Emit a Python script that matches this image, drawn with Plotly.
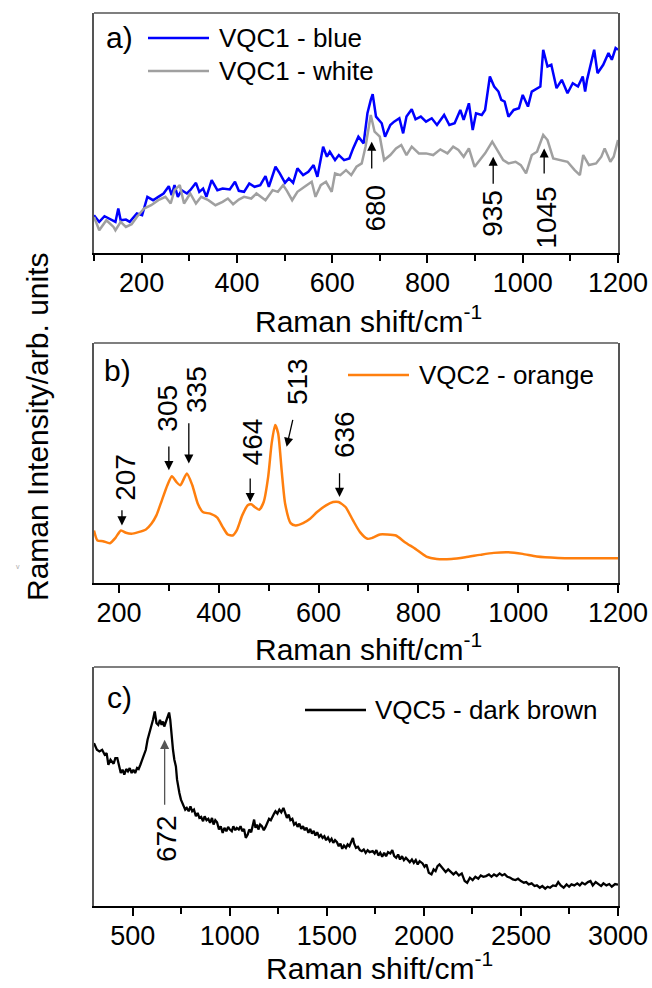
import plotly.graph_objects as go

# ---------------- data (arbitrary intensity units) ----------------
a_x_blue = [100,111,122,137,145,151,156,167,175,190,201,212,224,235,246,257,263,269,276,284,295,302,314,321,329,336,347,359,370,385,396,404,415,426,437,449,460,467,481,490,501,509,518,527,539,550,561,569,581,589,595,606,614,625,636,644,655,666,674,681,685,692,704,711,722,730,741,749,756,767,775,786,797,809,820,835,846,857,869,876,887,895,902,914,921,931,940,949,955,962,970,981,992,1000,1011,1019,1030,1037,1043,1052,1060,1071,1082,1094,1105,1116,1126,1131,1135,1150,1157,1169,1180,1187,1195,1200]
a_y_blue = [113,93,110,98,93,133,98,100,93,118,113,168,158,168,178,200,173,203,168,188,178,188,210,183,193,168,218,188,193,190,213,186,183,208,198,203,230,198,258,238,210,223,210,253,233,243,263,228,318,288,303,278,293,278,283,313,348,328,418,458,475,408,388,348,383,393,403,358,408,430,400,408,393,403,383,413,383,388,428,398,448,368,418,413,428,528,498,483,458,453,408,428,433,473,438,483,493,498,608,558,563,493,518,478,508,498,528,483,518,608,538,563,598,578,613,608]

a_x_white = [100,111,126,141,145,156,167,179,190,205,220,235,250,261,269,280,289,302,314,325,340,355,370,381,392,404,415,430,441,452,460,475,486,497,505,516,527,542,557,565,576,587,599,606,617,629,640,651,662,670,681,689,700,709,722,734,745,756,767,782,797,812,827,842,854,865,876,887,899,910,921,936,947,959,970,985,996,1007,1019,1030,1043,1052,1064,1079,1094,1109,1120,1127,1139,1154,1165,1172,1184,1191,1200]
a_y_white = [108,68,98,78,68,93,78,86,108,133,143,158,168,148,188,203,148,178,148,168,158,143,153,163,146,160,168,163,178,166,158,188,183,203,186,158,183,198,213,168,203,213,183,238,233,248,233,258,268,318,413,363,348,278,293,313,323,293,318,298,298,293,310,298,318,308,288,313,258,278,298,333,308,278,268,273,263,238,293,303,353,338,283,278,273,248,233,293,263,268,288,313,273,288,338]

b_x = [150,157,168,182,193,204,214,225,239,254,265,275,286,297,306,315,323,336,347,358,368,383,397,408,418,428,436,447,458,465,472,481,490,499,506,513,519,526,533,544,554,569,583,597,615,629,640,654,669,683,698,708,723,737,755,773,794,816,837,866,894,923,951,980,1009,1037,1080,1137,1200]
b_y = [157,127,125,119,135,157,150,147,152,160,177,202,247,292,319,302,292,327,292,237,212,207,195,167,145,142,157,202,232,235,227,219,242,317,417,472,447,337,237,179,172,179,192,212,232,242,242,227,187,152,132,135,145,145,142,122,102,79,72,72,77,84,90,92,87,79,75,74,74]

c_x = [300,315,328,342,355,365,374,385,401,410,420,430,438,447,456,466,475,484,494,503,512,522,530,539,548,558,567,576,585,595,604,613,622,631,640,648,655,662,668,675,681,687,693,700,707,714,722,728,733,740,748,755,760,770,778,788,797,806,815,825,834,843,852,862,870,880,889,898,908,916,925,934,944,953,963,972,982,991,1000,1010,1018,1028,1036,1046,1055,1064,1073,1082,1092,1100,1110,1118,1125,1132,1140,1147,1156,1165,1175,1184,1193,1202,1211,1220,1228,1235,1245,1255,1265,1276,1285,1294,1303,1312,1322,1331,1340,1349,1358,1368,1377,1386,1395,1405,1414,1423,1432,1441,1450,1460,1469,1478,1487,1496,1506,1515,1524,1533,1542,1552,1561,1570,1579,1588,1598,1607,1616,1625,1634,1640,1650,1660,1670,1680,1690,1700,1710,1720,1736,1746,1755,1765,1775,1785,1795,1805,1815,1827,1837,1847,1857,1867,1877,1887,1897,1907,1917,1927,1938,1948,1958,1968,1978,1993,2003,2013,2025,2039,2050,2060,2070,2080,2090,2100,2112,2125,2140,2152,2165,2180,2195,2210,2223,2237,2251,2265,2280,2293,2306,2320,2335,2348,2361,2375,2390,2403,2416,2430,2445,2458,2472,2485,2500,2515,2527,2540,2555,2570,2582,2597,2610,2625,2637,2650,2665,2680,2692,2705,2720,2735,2748,2760,2775,2790,2803,2815,2830,2845,2858,2870,2885,2900,2913,2925,2940,2955,2968,2985,3000]
c_y = [490,470,465,470,455,460,425,440,428,445,445,415,400,410,395,412,405,415,400,410,400,415,412,425,440,460,470,500,520,535,560,585,550,545,560,545,555,540,550,560,575,582,560,510,470,440,420,380,360,340,320,310,305,290,295,285,300,285,290,270,280,265,268,255,270,258,262,250,265,245,258,252,230,240,220,235,225,238,230,225,240,228,235,230,240,225,232,205,215,230,222,240,260,235,245,230,245,240,228,238,250,262,258,272,278,285,278,290,282,295,278,265,275,258,262,245,250,238,248,232,240,228,236,220,232,218,226,212,222,208,214,205,210,198,206,195,202,190,198,192,180,188,172,182,175,185,180,195,205,188,175,178,168,165,170,160,168,162,165,158,168,152,160,148,160,150,162,158,168,150,145,155,140,150,138,145,138,132,140,130,138,125,135,128,118,125,100,95,110,105,120,125,118,110,102,110,100,95,102,92,98,75,70,85,78,88,82,92,88,90,95,88,95,90,98,92,96,88,85,80,78,82,75,70,72,65,68,60,62,55,60,52,58,55,62,60,72,62,55,65,58,65,62,68,62,70,65,72,75,62,72,65,60,68,62,66,58,66,64]

a_peaks = [680, 935, 1045]
a_arrow_x = [683, 938, 1045]
a_arrow_tip = [333, 288, 313]
a_arrow_tail = [248, 203, 233]
a_label_x = [692, 936, 1049]
a_label_y = [133, 118, 106]

b_peaks = [207, 305, 335, 464, 513, 636]
b_tip_x = [206, 300, 340, 463, 536, 642]
b_tip_y = [172, 337, 357, 242, 407, 257]
b_tail_x = [206, 300, 340, 463, 549, 642]
b_tail_y = [222, 412, 482, 317, 492, 332]
b_label_x = [214, 297, 354, 468, 558, 651]
b_label_y = [317, 522, 579, 422, 602, 442]

c_peaks = [672]
c_arrow_x = [664]
c_arrow_tip = [500]
c_arrow_tail = [300]
c_label_x = [677]
c_label_y = [202]

W, H = 652, 988
FONT = "Arial, Liberation Sans, sans-serif"

def px(x):
    return x / W

def py(y):
    return 1 - y / H

fig = go.Figure()
fig.add_trace(go.Scatter(x=a_x_blue, y=a_y_blue, mode="lines", name="VQC1 - blue",
                         line=dict(color="#0000FF", width=2.5), xaxis="x", yaxis="y", showlegend=False))
fig.add_trace(go.Scatter(x=a_x_white, y=a_y_white, mode="lines", name="VQC1 - white",
                         line=dict(color="#A0A0A0", width=2.5), xaxis="x", yaxis="y", showlegend=False))
fig.add_trace(go.Scatter(x=b_x, y=b_y, mode="lines", name="VQC2 - orange",
                         line=dict(color="#FF7F0E", width=2.5, shape="spline", smoothing=0.6),
                         xaxis="x2", yaxis="y2", showlegend=False))
fig.add_trace(go.Scatter(x=c_x, y=c_y, mode="lines", name="VQC5 - dark brown",
                         line=dict(color="#000000", width=2.3), xaxis="x3", yaxis="y3", showlegend=False))

xdom = [px(94), px(618)]
panels = [
    ("x", "y", [100, 1200], 200, 100, [0, 718], (13, 253)),
    ("x2", "y2", [150, 1200], 200, 100, [0, 717], (343, 583)),
    ("x3", "y3", [300, 3000], 500, 250, [0, 719], (667, 906)),
]
layout = dict(
    width=W, height=H, margin=dict(l=0, r=0, t=0, b=0),
    paper_bgcolor="white", plot_bgcolor="white",
    font=dict(family=FONT, color="black"), showlegend=False,
)
shapes = []
annotations = []
for xa, ya, xr, dt, mdt, yr, (top, bot) in panels:
    xkey = "xaxis" if xa == "x" else "xaxis" + xa[1:]
    ykey = "yaxis" if ya == "y" else "yaxis" + ya[1:]
    layout[xkey] = dict(domain=xdom, range=xr, anchor=ya, dtick=dt, tick0=0,
                        showgrid=False, zeroline=False, showline=True, linecolor="black",
                        linewidth=2, ticks="outside", ticklen=8, tickwidth=1.5, tickcolor="black",
                        tickfont=dict(size=27, family=FONT, color="black"),
                        ticklabelstandoff=-3,
                        minor=dict(dtick=mdt, tick0=0, ticks="outside", ticklen=6, tickwidth=1.5,
                                   tickcolor="black", showgrid=False),
                        automargin=False)
    layout[ykey] = dict(domain=[py(bot), py(top)], range=yr, anchor=xa,
                        showgrid=False, zeroline=False, showline=True, linecolor="#555555",
                        linewidth=1.5, mirror=True, showticklabels=False, ticks="",
                        automargin=False)
    shapes.append(dict(type="line", xref="paper", yref="paper",
                       x0=xdom[0], x1=xdom[1], y0=py(top), y1=py(top),
                       line=dict(color="#555555", width=1.5)))

# axis titles
for cx, cy in [(368, 319), (368, 647), (379, 966)]:
    annotations.append(dict(text="Raman shift/cm<sup>-1</sup>", x=px(cx), y=py(cy),
                            xref="paper", yref="paper", showarrow=False,
                            xanchor="center", yanchor="middle",
                            font=dict(size=30, family=FONT, color="black")))
annotations.append(dict(text="Raman Intensity/arb. units", x=px(37), y=py(427),
                        xref="paper", yref="paper", showarrow=False, textangle=-90,
                        xanchor="center", yanchor="middle",
                        font=dict(size=30, family=FONT, color="black")))
annotations.append(dict(text="v", x=px(14), y=py(566), xref="paper", yref="paper",
                        showarrow=False, font=dict(size=7, color="#aaaaaa")))

# panel letters
for t, cx, cy in [("a)", 119, 37), ("b)", 117, 370), ("c)", 119, 697)]:
    annotations.append(dict(text=t, x=px(cx), y=py(cy), xref="paper", yref="paper",
                            showarrow=False, xanchor="center", yanchor="middle",
                            font=dict(size=30, family=FONT, color="black")))

# manual legends
legend_items = [
    ("VQC1 - blue", "#0000FF", 148, 209, 217, 38),
    ("VQC1 - white", "#A0A0A0", 148, 209, 217, 71),
    ("VQC2 - orange", "#FF7F0E", 348, 409, 417, 375),
    ("VQC5 - dark brown", "#000000", 305, 366, 373, 710),
]
for name, col, x0, x1, tx, yy in legend_items:
    shapes.append(dict(type="line", xref="paper", yref="paper", x0=px(x0), x1=px(x1),
                       y0=py(yy), y1=py(yy), line=dict(color=col, width=2.5)))
    annotations.append(dict(text=name, x=px(tx), y=py(yy), xref="paper", yref="paper",
                            showarrow=False, xanchor="left", yanchor="middle",
                            font=dict(size=26, family=FONT, color="black")))

def add_arrow(xa, ya, tipx, tipy, tailx, taily, color="black"):
    annotations.append(dict(text="", x=tipx, y=tipy, ax=tailx, ay=taily,
                            xref=xa, yref=ya, axref=xa, ayref=ya,
                            showarrow=True, arrowhead=2, arrowsize=1.4, arrowwidth=1.3,
                            arrowcolor=color, standoff=0, startstandoff=0,
                            font=dict(size=1)))

def add_label(xa, ya, text, x, y):
    annotations.append(dict(text=text, x=x, y=y, xref=xa, yref=ya, showarrow=False,
                            textangle=-90, xanchor="center", yanchor="middle",
                            font=dict(size=28, family=FONT, color="black")))

for i, p in enumerate(a_peaks):
    add_arrow("x", "y", a_arrow_x[i], a_arrow_tip[i], a_arrow_x[i], a_arrow_tail[i])
    add_label("x", "y", str(p), a_label_x[i], a_label_y[i])
for i, p in enumerate(b_peaks):
    add_arrow("x2", "y2", b_tip_x[i], b_tip_y[i], b_tail_x[i], b_tail_y[i])
    add_label("x2", "y2", str(p), b_label_x[i], b_label_y[i])
for i, p in enumerate(c_peaks):
    add_arrow("x3", "y3", c_arrow_x[i], c_arrow_tip[i], c_arrow_x[i], c_arrow_tail[i], color="#555555")
    add_label("x3", "y3", str(p), c_label_x[i], c_label_y[i])

layout["shapes"] = shapes
layout["annotations"] = annotations
fig.update_layout(**layout)
fig.write_html("out.html", config={"displayModeBar": False},
               post_script="document.body.style.margin='0';document.body.style.overflow='hidden';")
